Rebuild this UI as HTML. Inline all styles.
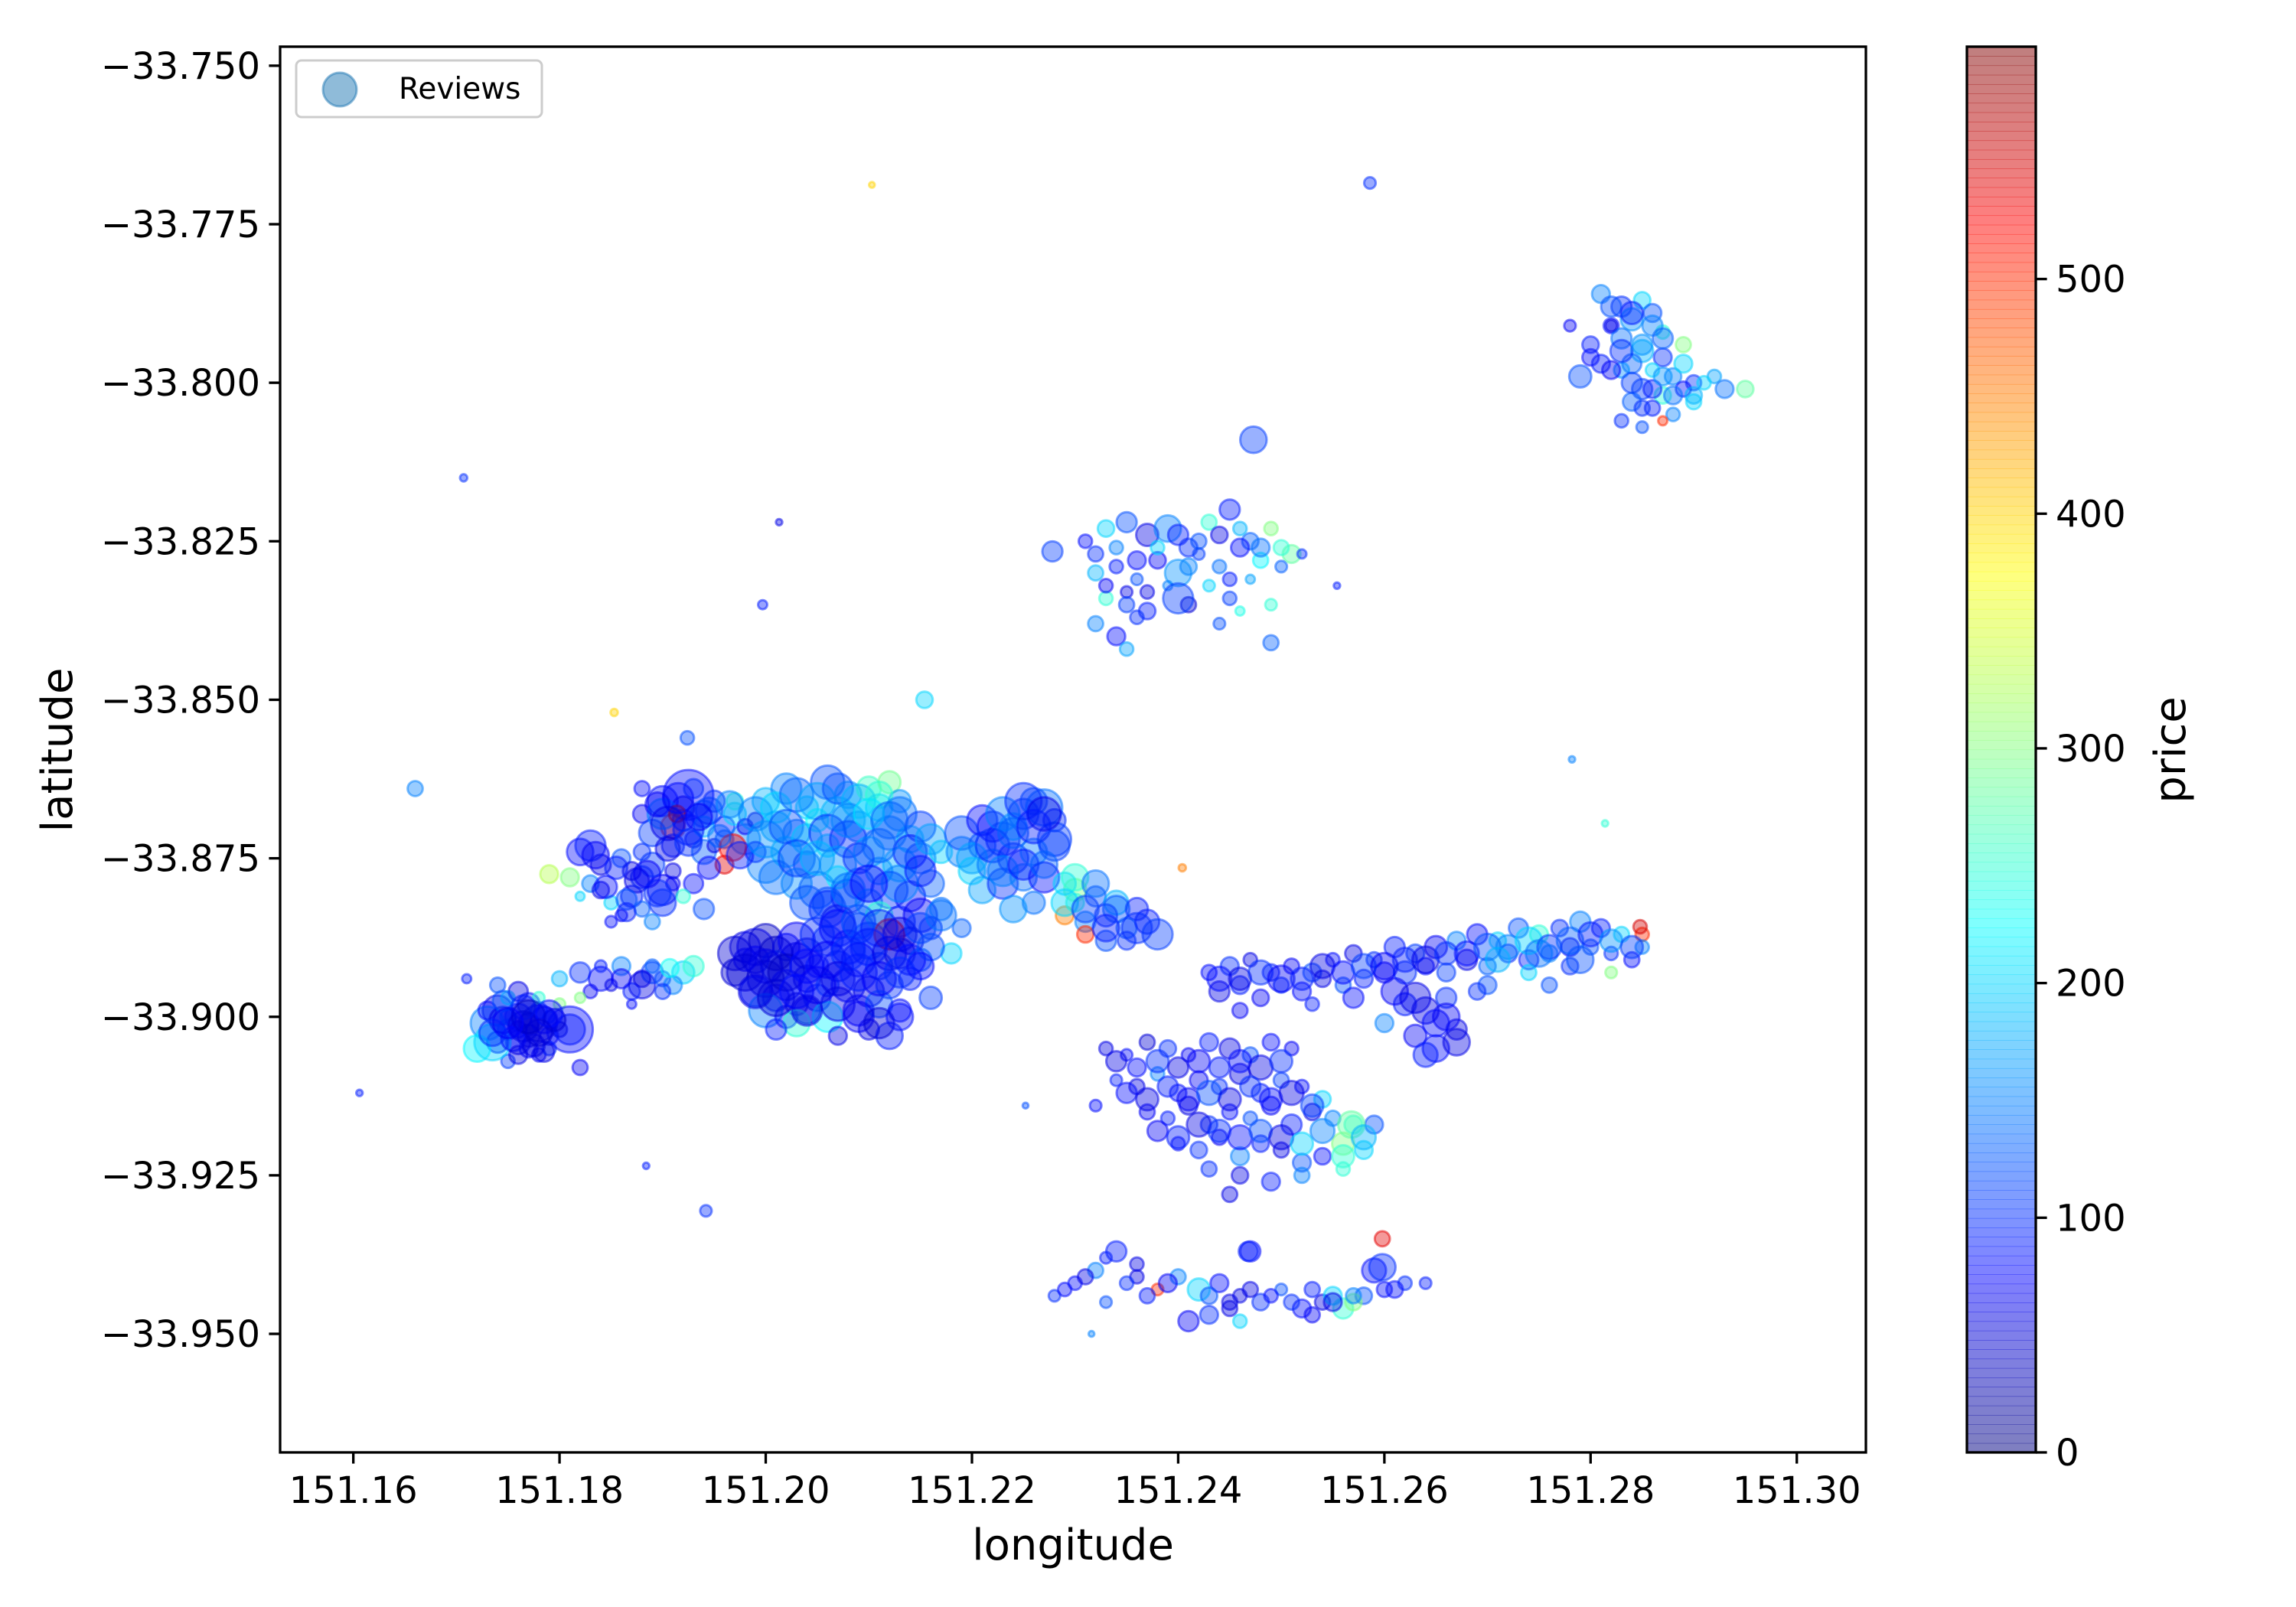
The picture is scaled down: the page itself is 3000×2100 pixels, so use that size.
<!DOCTYPE html>
<html><head><meta charset="utf-8"><style>
html,body{margin:0;padding:0;background:#fff;}
svg{display:block;font-family:"DejaVu Sans","Liberation Sans",sans-serif;}
</style></head><body>
<svg id="chart" width="3000" height="2100" viewBox="0 0 3000 2100" xmlns="http://www.w3.org/2000/svg">
<rect width="3000" height="2100" fill="#fff"/>
<g id="points"></g>
<g id="axes"></g>
<g id="cbar"></g>
</svg>
<script>
const longitude = [
151.174,151.176,151.178,151.175,151.177,151.179,151.173,151.176,151.178,151.180,151.175,151.177,151.174,151.179,151.176,151.172,151.181,151.177,151.175,151.178,151.173,151.180,151.176,151.174,151.179,151.171,151.182,151.177,151.175,151.178,151.181,151.1735,
151.182,151.184,151.186,151.188,151.190,151.192,151.183,151.187,151.189,151.185,151.191,151.180,151.186,151.189,151.193,151.184,151.188,151.182,151.190,151.187,
151.182,151.184,151.186,151.188,151.190,151.183,151.187,151.191,151.185,151.189,151.193,151.181,151.186,151.188,151.184,151.190,151.192,151.183,151.187,151.194,151.185,151.189,151.182,151.191,151.188,151.179,
151.1925,151.190,151.192,151.194,151.196,151.198,151.188,151.191,151.195,151.197,151.193,151.189,151.199,151.194,151.196,151.191,151.198,151.193,151.195,151.190,151.197,151.192,151.196,151.194,151.199,151.188,151.1914,151.1968,
151.200,151.202,151.204,151.206,151.208,151.210,151.212,151.201,151.203,151.205,151.207,151.209,151.211,151.213,151.200,151.202,151.204,151.206,151.208,151.210,151.212,151.214,151.203,151.205,151.207,151.209,151.211,151.213,151.215,151.217,
151.198,151.200,151.202,151.204,151.199,151.201,151.203,151.205,151.197,151.200,151.202,151.204,151.206,151.199,151.201,151.203,151.205,151.200,151.202,151.204,151.206,151.198,151.203,151.201,151.207,
151.206,151.208,151.210,151.212,151.214,151.216,151.207,151.209,151.211,151.213,151.215,151.217,151.206,151.208,151.210,151.212,151.214,151.216,151.207,151.209,151.211,151.213,151.215,151.208,151.210,151.212,151.214,151.209,151.211,151.213,151.210,151.212,151.216,151.218,151.219,
151.219,151.221,151.223,151.225,151.227,151.222,151.224,151.226,151.228,151.220,151.222,151.224,151.226,151.228,151.230,151.232,151.234,151.236,151.221,151.223,151.225,151.227,151.229,151.231,151.233,151.235,151.237,151.229,151.231,151.233,151.235,151.226,151.224,151.230,151.238,
151.231,151.233,151.235,151.237,151.239,151.241,151.243,151.245,151.247,151.249,151.251,151.232,151.234,151.236,151.238,151.240,151.242,151.244,151.246,151.248,151.250,151.252,151.233,151.235,151.237,151.239,151.241,151.243,151.245,151.247,151.249,151.232,151.234,151.236,151.244,151.246,151.249,151.235,151.240,151.2473,151.2278,
151.281,151.283,151.285,151.282,151.284,151.286,151.287,151.280,151.283,151.285,151.287,151.289,151.284,151.286,151.288,151.290,151.292,151.279,151.281,151.283,151.285,151.287,151.289,151.291,151.293,151.295,151.282,151.284,151.286,151.288,151.290,151.283,151.285,151.287,151.278,
151.243,151.245,151.247,151.249,151.251,151.253,151.255,151.257,151.259,151.261,151.263,151.265,151.267,151.269,151.271,151.273,151.275,151.277,151.279,151.281,151.283,151.285,151.244,151.246,151.248,151.250,151.252,151.254,151.256,151.258,151.260,151.262,151.264,151.266,151.268,151.270,151.272,151.274,151.276,151.278,151.280,151.282,151.284,151.262,151.264,151.266,151.260,151.263,151.265,151.267,151.270,151.274,151.278,151.282,151.246,151.253,151.257,151.269,151.276,151.285,
151.233,151.235,151.237,151.239,151.241,151.243,151.245,151.247,151.249,151.251,151.234,151.236,151.238,151.240,151.242,151.244,151.246,151.248,151.250,151.252,151.254,151.237,151.239,151.241,151.243,151.245,151.247,151.249,151.251,151.253,151.255,151.257,151.240,151.242,151.244,151.246,151.248,151.250,151.252,151.254,151.256,151.258,151.243,151.246,151.249,151.252,151.256,151.259,151.232,151.245,151.2568,
151.228,151.230,151.232,151.234,151.236,151.238,151.240,151.242,151.244,151.246,151.248,151.250,151.252,151.254,151.256,151.258,151.260,151.262,151.264,151.241,151.243,151.245,151.247,151.233,151.236,151.253,151.255,151.257,151.259,151.246,151.2598,151.2598,151.2468,
151.2586,151.1707,151.2103,151.2013,151.1997,151.2154,151.166,151.1924,151.1853,151.1606,151.1884,151.1942,151.2782,151.2814,151.2404,151.2554,151.2316,151.2252,151.2848,151.1907,
151.1745,151.1765,151.1785,151.1755,151.1775,151.1735,151.1795,151.1765,151.1745,151.1785,151.1770,151.1750,151.1790,151.1760,151.1780,
151.1835,151.1855,151.1875,151.1895,151.1845,151.1865,151.1885,151.1905,151.1925,151.1945,151.1965,151.1915,151.1935,151.1955,151.1975,151.1905,151.1925,151.1945,151.1895,151.1865,
151.199,151.201,151.203,151.205,151.207,151.209,151.211,151.213,151.215,151.200,151.202,151.204,151.206,151.208,151.210,151.212,151.214,151.216,151.201,151.203,151.205,151.207,151.209,151.211,151.213,151.215,151.204,151.206,151.208,151.210,
151.197,151.199,151.201,151.203,151.205,151.207,151.209,151.211,151.213,151.215,151.217,151.198,151.200,151.202,151.204,151.206,151.208,151.210,151.212,151.214,151.216,151.199,151.201,151.203,151.205,151.207,151.209,151.211,151.213,151.215,151.207,151.209,151.211,151.213,151.204,
151.219,151.221,151.223,151.225,151.227,151.220,151.222,151.224,151.226,151.228,151.230,151.232,151.234,151.236,151.223,151.225,151.227,151.229,151.231,151.233,
151.244,151.246,151.248,151.250,151.252,151.254,151.256,151.258,151.260,151.262,151.264,151.266,151.268,151.270,151.272,151.274,151.276,151.278,151.280,151.282,151.284,151.261,151.263,151.265,151.267,151.264,151.266,151.271,151.275,151.279,
151.234,151.236,151.238,151.240,151.242,151.244,151.246,151.248,151.250,151.235,151.237,151.239,151.241,151.243,151.245,151.247,151.249,151.251,151.253,151.238,151.240,151.242,151.244,151.246,151.248,151.250,151.252,151.254,151.256,151.258,
151.282,151.284,151.286,151.283,151.285,151.287,151.289,151.284,151.286,151.288,151.290,151.282,151.285,151.287,151.280,
151.232,151.234,151.236,151.238,151.240,151.242,151.244,151.246,151.248,151.233,151.235,151.237,151.241,151.245,151.250,
151.229,151.231,151.235,151.237,151.239,151.243,151.245,151.249,151.251,151.255,151.257,151.261,151.233,151.247,151.253
];
const latitude = [
-33.899,-33.900,-33.901,-33.902,-33.898,-33.903,-33.901,-33.904,-33.899,-33.902,-33.897,-33.905,-33.904,-33.900,-33.896,-33.905,-33.902,-33.903,-33.900,-33.906,-33.899,-33.898,-33.902,-33.895,-33.905,-33.894,-33.908,-33.901,-33.907,-33.897,-33.902,-33.904,
-33.893,-33.894,-33.892,-33.895,-33.894,-33.893,-33.896,-33.896,-33.893,-33.895,-33.895,-33.894,-33.894,-33.892,-33.892,-33.892,-33.894,-33.897,-33.896,-33.898,
-33.874,-33.876,-33.875,-33.878,-33.880,-33.879,-33.881,-33.877,-33.882,-33.876,-33.879,-33.878,-33.884,-33.883,-33.880,-33.882,-33.881,-33.873,-33.877,-33.883,-33.885,-33.885,-33.881,-33.879,-33.874,-33.8775,
-33.865,-33.866,-33.867,-33.868,-33.870,-33.872,-33.868,-33.870,-33.866,-33.868,-33.872,-33.871,-33.874,-33.874,-33.876,-33.873,-33.870,-33.864,-33.873,-33.868,-33.866,-33.869,-33.872,-33.870,-33.869,-33.864,-33.868,-33.8733,
-33.866,-33.864,-33.867,-33.863,-33.865,-33.864,-33.863,-33.870,-33.871,-33.869,-33.868,-33.870,-33.867,-33.866,-33.876,-33.874,-33.876,-33.873,-33.872,-33.874,-33.871,-33.872,-33.879,-33.880,-33.878,-33.879,-33.877,-33.876,-33.875,-33.874,
-33.889,-33.888,-33.889,-33.890,-33.891,-33.892,-33.891,-33.892,-33.893,-33.894,-33.895,-33.894,-33.895,-33.896,-33.897,-33.898,-33.897,-33.899,-33.900,-33.899,-33.900,-33.891,-33.901,-33.902,-33.903,
-33.882,-33.881,-33.882,-33.880,-33.881,-33.879,-33.885,-33.886,-33.884,-33.885,-33.884,-33.883,-33.888,-33.889,-33.888,-33.887,-33.888,-33.886,-33.892,-33.891,-33.892,-33.890,-33.891,-33.895,-33.896,-33.895,-33.894,-33.899,-33.898,-33.899,-33.902,-33.903,-33.897,-33.890,-33.886,
-33.874,-33.873,-33.872,-33.868,-33.867,-33.870,-33.870,-33.866,-33.869,-33.877,-33.876,-33.875,-33.874,-33.872,-33.880,-33.881,-33.882,-33.883,-33.880,-33.879,-33.878,-33.878,-33.884,-33.885,-33.884,-33.886,-33.885,-33.879,-33.887,-33.888,-33.888,-33.882,-33.883,-33.882,-33.887,
-33.825,-33.823,-33.822,-33.824,-33.823,-33.826,-33.822,-33.820,-33.825,-33.823,-33.827,-33.830,-33.829,-33.831,-33.828,-33.830,-33.827,-33.829,-33.826,-33.828,-33.829,-33.827,-33.834,-33.833,-33.836,-33.832,-33.835,-33.832,-33.834,-33.831,-33.835,-33.838,-33.840,-33.837,-33.838,-33.836,-33.841,-33.842,-33.834,-33.809,-33.8266,
-33.786,-33.788,-33.787,-33.791,-33.790,-33.789,-33.792,-33.794,-33.793,-33.795,-33.796,-33.794,-33.797,-33.798,-33.799,-33.800,-33.799,-33.799,-33.797,-33.798,-33.801,-33.802,-33.801,-33.800,-33.801,-33.801,-33.791,-33.803,-33.804,-33.805,-33.803,-33.806,-33.807,-33.806,-33.791,
-33.893,-33.892,-33.891,-33.893,-33.892,-33.893,-33.891,-33.890,-33.891,-33.889,-33.890,-33.889,-33.888,-33.887,-33.888,-33.886,-33.887,-33.886,-33.885,-33.886,-33.887,-33.887,-33.896,-33.895,-33.897,-33.895,-33.896,-33.894,-33.895,-33.894,-33.893,-33.893,-33.892,-33.893,-33.891,-33.892,-33.890,-33.891,-33.890,-33.889,-33.889,-33.890,-33.891,-33.898,-33.899,-33.897,-33.901,-33.903,-33.905,-33.902,-33.895,-33.893,-33.892,-33.893,-33.899,-33.898,-33.897,-33.896,-33.895,-33.889,
-33.905,-33.906,-33.904,-33.905,-33.906,-33.904,-33.905,-33.906,-33.904,-33.905,-33.910,-33.911,-33.909,-33.912,-33.910,-33.911,-33.909,-33.912,-33.910,-33.911,-33.913,-33.915,-33.916,-33.914,-33.917,-33.915,-33.916,-33.914,-33.917,-33.915,-33.916,-33.917,-33.920,-33.921,-33.919,-33.922,-33.920,-33.921,-33.923,-33.922,-33.920,-33.921,-33.924,-33.925,-33.926,-33.925,-33.924,-33.917,-33.914,-33.928,-33.917,
-33.944,-33.942,-33.940,-33.937,-33.941,-33.943,-33.941,-33.943,-33.942,-33.944,-33.945,-33.943,-33.946,-33.945,-33.946,-33.944,-33.943,-33.942,-33.942,-33.948,-33.947,-33.946,-33.937,-33.945,-33.939,-33.943,-33.944,-33.945,-33.940,-33.948,-33.9395,-33.935,-33.937,
-33.7685,-33.815,-33.7688,-33.822,-33.835,-33.850,-33.864,-33.856,-33.852,-33.912,-33.9235,-33.9306,-33.8594,-33.8695,-33.8765,-33.832,-33.950,-33.914,-33.8858,-33.8923,
-33.9005,-33.9015,-33.9005,-33.9035,-33.9045,-33.9025,-33.9005,-33.8985,-33.8975,-33.9055,-33.9000,-33.9010,-33.8995,-33.9060,-33.9025,
-33.8745,-33.8765,-33.8785,-33.8805,-33.8795,-33.8815,-33.8775,-33.8735,-33.8705,-33.8675,-33.8665,-33.8655,-33.8685,-33.8715,-33.8745,-33.8695,-33.8725,-33.8765,-33.8665,-33.8835,
-33.868,-33.867,-33.865,-33.866,-33.864,-33.866,-33.865,-33.868,-33.870,-33.872,-33.870,-33.872,-33.871,-33.869,-33.868,-33.869,-33.874,-33.872,-33.878,-33.875,-33.875,-33.876,-33.875,-33.873,-33.879,-33.877,-33.882,-33.883,-33.880,-33.879,
-33.890,-33.889,-33.890,-33.888,-33.887,-33.886,-33.885,-33.886,-33.887,-33.886,-33.884,-33.893,-33.892,-33.893,-33.892,-33.891,-33.890,-33.889,-33.890,-33.891,-33.889,-33.896,-33.897,-33.896,-33.895,-33.894,-33.893,-33.894,-33.893,-33.892,-33.898,-33.900,-33.901,-33.900,-33.899,
-33.871,-33.869,-33.868,-33.866,-33.868,-33.875,-33.873,-33.871,-33.870,-33.873,-33.878,-33.879,-33.883,-33.886,-33.877,-33.876,-33.876,-33.882,-33.883,-33.886,
-33.894,-33.894,-33.893,-33.894,-33.894,-33.892,-33.893,-33.892,-33.892,-33.891,-33.891,-33.890,-33.890,-33.889,-33.889,-33.888,-33.889,-33.888,-33.887,-33.888,-33.889,-33.896,-33.897,-33.901,-33.904,-33.906,-33.900,-33.891,-33.890,-33.891,
-33.907,-33.908,-33.907,-33.908,-33.907,-33.908,-33.907,-33.908,-33.907,-33.912,-33.913,-33.911,-33.913,-33.912,-33.913,-33.911,-33.913,-33.912,-33.914,-33.918,-33.919,-33.917,-33.918,-33.919,-33.918,-33.919,-33.920,-33.918,-33.922,-33.919,
-33.788,-33.789,-33.791,-33.795,-33.794,-33.793,-33.797,-33.800,-33.801,-33.802,-33.802,-33.798,-33.804,-33.799,-33.796,
-33.827,-33.826,-33.828,-33.826,-33.824,-33.825,-33.824,-33.823,-33.826,-33.832,-33.835,-33.833,-33.829,-33.831,-33.826,
-33.943,-33.941,-33.942,-33.944,-33.942,-33.944,-33.945,-33.944,-33.945,-33.945,-33.944,-33.943,-33.938,-33.943,-33.947
];
const price = [
60,80,50,120,90,70,150,60,100,40,200,80,70,110,60,220,90,50,150,70,80,300,60,120,100,90,70,50,110,250,80,200,
100,80,150,60,120,200,70,90,110,60,150,180,70,130,250,90,60,300,100,80,
80,60,120,100,70,150,90,60,200,110,80,300,70,130,60,100,250,90,60,120,80,150,200,70,100,330,
80,80,60,120,90,150,70,500,100,200,60,110,80,130,540,90,70,100,60,150,250,90,120,180,60,80,560,520,
180,150,200,120,160,260,290,170,140,230,190,130,200,160,150,180,120,210,100,170,140,190,160,130,220,110,150,180,130,200,
60,40,80,50,70,100,60,90,50,40,80,60,120,90,70,50,100,150,80,60,220,70,250,90,60,
120,90,150,100,80,130,60,110,250,90,70,140,100,80,120,550,60,100,90,70,110,50,130,80,60,100,90,70,120,80,60,90,110,200,130,
150,120,90,100,140,80,160,120,100,200,130,90,150,110,300,120,180,90,170,100,140,80,450,150,100,130,90,200,500,120,100,140,160,250,110,
80,200,120,60,150,100,250,90,130,300,280,180,90,120,70,160,110,140,80,220,130,100,250,60,90,150,50,200,110,170,250,150,80,100,120,240,130,170,110,110,110,
150,100,200,80,160,120,250,90,140,180,100,300,130,200,150,100,170,120,90,160,110,250,80,200,140,280,60,130,90,150,200,100,120,500,70,
80,100,60,90,70,120,80,60,100,90,110,70,150,80,200,120,250,100,150,90,200,500,60,90,70,100,80,60,120,90,70,100,80,110,60,130,100,90,150,70,120,100,80,90,60,100,150,70,80,60,120,200,100,300,70,90,80,100,120,150,
60,80,50,100,70,90,60,120,80,70,90,60,150,80,70,100,60,90,110,80,200,70,90,60,100,80,120,70,90,60,150,250,80,100,70,150,90,60,120,80,300,200,100,60,90,150,250,120,80,60,280,
100,80,150,90,60,500,150,200,80,60,100,120,80,60,250,120,80,100,90,70,100,60,80,120,60,90,200,300,80,200,100,540,90,
100,100,400,60,90,200,150,120,400,90,90,100,150,250,450,90,150,120,550,230,
60,50,70,80,60,100,50,90,120,60,40,70,80,60,50,
70,90,60,100,80,120,70,60,90,110,150,80,70,130,90,60,100,80,70,90,
150,200,130,170,120,180,250,140,110,160,120,190,100,150,210,130,90,170,140,110,180,160,100,130,150,90,120,100,140,80,
50,60,40,70,100,80,120,90,60,110,140,50,60,40,80,70,100,90,60,80,120,60,50,80,70,60,90,70,100,80,60,70,50,80,60,
120,80,150,100,60,170,100,130,90,110,250,140,120,100,150,90,130,200,110,90,
80,60,100,70,90,60,80,110,70,90,60,100,80,120,150,200,100,130,90,160,110,70,60,80,60,90,70,180,140,120,
60,80,100,60,70,90,80,60,100,80,60,90,70,120,60,100,80,60,110,70,90,60,100,80,120,60,200,150,250,180,
120,90,150,100,160,130,200,110,90,140,180,70,100,160,80,
100,150,80,200,90,120,60,180,140,70,110,60,150,90,250,
80,60,100,90,70,120,60,80,100,60,150,80,90,60,70
];
const reviews = [
200,150,300,80,100,60,250,120,50,40,30,60,90,20,70,150,200,100,40,30,60,20,50,40,30,10,40,80,30,20,500,300,
80,120,60,150,40,100,30,50,90,20,60,40,70,30,80,20,50,15,40,10,
150,80,60,100,200,50,90,40,30,120,70,60,20,40,50,150,30,200,60,80,20,40,10,30,50,60,
600,200,100,150,80,200,60,120,90,100,50,150,80,120,60,100,40,70,30,200,50,90,60,80,40,40,50,150,
150,200,100,250,150,120,100,200,150,100,250,200,150,100,300,200,150,100,300,200,250,150,200,300,100,200,150,250,200,100,
200,250,150,200,150,200,250,100,150,300,200,150,100,200,150,100,150,250,100,150,200,100,150,80,60,
200,250,150,300,200,150,250,200,150,200,250,100,200,250,300,200,150,100,200,250,150,200,100,250,200,150,100,200,150,100,80,150,100,80,60,
200,150,250,200,300,200,150,150,100,150,200,200,150,250,100,80,120,100,150,200,150,200,60,80,100,80,120,100,50,80,60,100,150,60,200,
30,50,80,100,150,60,40,80,50,30,60,40,30,20,50,150,20,30,60,40,20,10,30,20,50,10,40,20,30,10,20,40,60,30,20,10,40,30,200,150,80,
60,80,50,40,100,60,30,50,80,100,60,40,70,30,50,40,30,100,60,40,80,50,40,30,60,50,20,60,40,30,40,30,20,10,20,
40,60,30,50,40,60,30,50,40,80,60,100,60,80,50,70,60,50,80,60,40,30,80,60,50,40,60,50,40,60,80,100,50,60,80,50,60,70,50,60,40,30,40,100,150,80,60,100,150,80,60,40,50,20,40,30,80,50,40,30,
30,20,40,50,30,60,80,40,50,30,20,40,30,50,60,40,80,60,40,30,50,40,30,60,50,40,30,60,80,50,40,60,30,50,40,60,50,40,60,50,100,60,40,50,60,40,30,60,20,40,150,
20,30,40,80,30,20,40,100,60,30,50,20,60,40,80,50,40,30,20,80,60,40,80,20,30,40,60,50,120,30,150,40,70,
20,5,2,3,10,50,40,30,5,3,3,20,3,3,5,3,2,2,30,60,
150,200,150,120,100,150,100,120,80,80,250,200,150,60,150,
150,100,120,150,100,80,150,120,200,150,150,200,150,100,150,250,150,100,120,60,
250,200,250,300,200,250,150,250,200,300,250,200,300,250,200,300,250,200,250,300,250,300,200,250,300,200,250,300,250,300,
250,300,250,300,250,300,250,300,250,200,200,300,250,300,250,300,250,300,250,200,150,250,300,250,300,250,300,250,200,150,250,200,200,150,200,
250,200,250,300,250,200,250,200,250,200,150,150,150,200,200,200,150,150,150,150,
120,100,120,150,100,120,100,120,150,120,150,100,120,150,120,150,120,150,120,100,100,150,200,150,150,120,150,120,150,150,
80,60,100,80,100,80,100,120,100,80,100,80,100,120,100,80,100,120,100,80,100,120,100,120,100,120,100,120,100,120,
80,100,80,100,80,80,60,80,60,60,50,60,40,60,50,
40,30,60,30,80,40,50,30,60,30,40,30,50,30,40,
30,40,30,40,60,50,40,30,40,60,40,50,20,40,40
];
const xTicks = [151.16,151.18,151.20,151.22,151.24,151.26,151.28,151.30];
const xTickLabels = ["151.16","151.18","151.20","151.22","151.24","151.26","151.28","151.30"];
const yTicks = [-33.75,-33.775,-33.80,-33.825,-33.85,-33.875,-33.90,-33.925,-33.95];
const yTickLabels = ["\u221233.750","\u221233.775","\u221233.800","\u221233.825","\u221233.850","\u221233.875","\u221233.900","\u221233.925","\u221233.950"];
const cTicks = [0,100,200,300,400,500];

const NS = "http://www.w3.org/2000/svg";
const PL=366, PR=2438, PT=61, PB=1898;
const X0=151.1529, X1=151.3067, Y0=-33.9687, Y1=-33.7470;
const CMAX=599;
function sx(v){return PL+(v-X0)/(X1-X0)*(PR-PL);}
function sy(v){return PB-(v-Y0)/(Y1-Y0)*(PB-PT);}
function cy(v){return PB-v/CMAX*(PB-PT);}
function cl(v){return Math.max(0,Math.min(1,v));}
function jet(t){t=cl(t);const r=cl(1.5-Math.abs(4*t-3)),g=cl(1.5-Math.abs(4*t-2)),b=cl(1.5-Math.abs(4*t-1));
 return "rgb("+Math.round(r*255)+","+Math.round(g*255)+","+Math.round(b*255)+")";}
function mk(tag,attrs,parent){const e=document.createElementNS(NS,tag);for(const k in attrs)e.setAttribute(k,attrs[k]);parent.appendChild(e);return e;}

const gp=document.getElementById('points');
for(let i=0;i<longitude.length;i++){
 const col=jet(price[i]/CMAX);
 const c=mk('circle',{cx:sx(longitude[i]).toFixed(1),cy:sy(latitude[i]).toFixed(1),r:(2+Math.sqrt(reviews[i])*1.25).toFixed(1),fill:col,'fill-opacity':0.4,stroke:col,'stroke-opacity':0.5,'stroke-width':3},gp);
 
 
}

const ga=document.getElementById('axes');
const frame=mk('rect',{x:PL,y:PT,width:PR-PL,height:PB-PT,fill:'none',stroke:'#000','stroke-width':3.3},ga);


xTicks.forEach((v,i)=>{
 const x=sx(v);
 const t=mk('line',{x1:x,y1:PB,x2:x,y2:PB+14.6,stroke:'#000','stroke-width':3.3},ga);
 
 
 const l=mk('text',{x:x,y:PB+66,'font-size':48,'text-anchor':'middle',fill:'#000'},ga);
 l.textContent=xTickLabels[i];
 
 
});
yTicks.forEach((v,i)=>{
 const y=sy(v);
 const t=mk('line',{x1:PL-14.6,y1:y,x2:PL,y2:y,stroke:'#000','stroke-width':3.3},ga);
 
 
 const l=mk('text',{x:PL-26,y:y+17,'font-size':48,'text-anchor':'end',fill:'#000'},ga);
 l.textContent=yTickLabels[i];
 
 
});
const xl=mk('text',{x:(PL+PR)/2,y:2038,'font-size':56,'text-anchor':'middle',fill:'#000'},ga);
xl.textContent='longitude';


const yl=mk('text',{x:0,y:0,'font-size':56,'text-anchor':'middle',fill:'#000',transform:'translate(94,980) rotate(-90)'},ga);
yl.textContent='latitude';



const lg=mk('g',{},ga);


mk('rect',{x:387,y:79,width:321,height:74,rx:7,fill:'#fff','fill-opacity':0.8,stroke:'#cccccc','stroke-width':3},lg);
const lm=mk('circle',{cx:444,cy:117,r:22,fill:'#1f77b4','fill-opacity':0.5,stroke:'#1f77b4','stroke-opacity':0.5,'stroke-width':3},lg);


const lt=mk('text',{x:521,y:129,'font-size':39,fill:'#000'},lg);
lt.textContent='Reviews';



const gc=document.getElementById('cbar');
const CL=2570, CR=2660, N=150;
for(let k=0;k<N;k++){
 const v0=k*CMAX/N, v1=(k+1)*CMAX/N;
 mk('rect',{x:CL,y:cy(v1),width:CR-CL,height:cy(v0)-cy(v1)+0.6,fill:jet((v0+v1)/2/CMAX),'fill-opacity':0.5},gc);
}
const cf=mk('rect',{x:CL,y:PT,width:CR-CL,height:PB-PT,fill:'none',stroke:'#000','stroke-width':3.3},gc);


cTicks.forEach(v=>{
 const y=cy(v);
 const t=mk('line',{x1:CR,y1:y,x2:CR+14.6,y2:y,stroke:'#000','stroke-width':3.3},gc);
 
 
 const l=mk('text',{x:CR+26,y:y+17,'font-size':48,fill:'#000'},gc);
 l.textContent=String(v);
 
 
});
const cl2=mk('text',{x:0,y:0,'font-size':56,'text-anchor':'middle',fill:'#000',transform:'translate(2855,980) rotate(-90)'},gc);
cl2.textContent='price';


</script>
</body></html>
